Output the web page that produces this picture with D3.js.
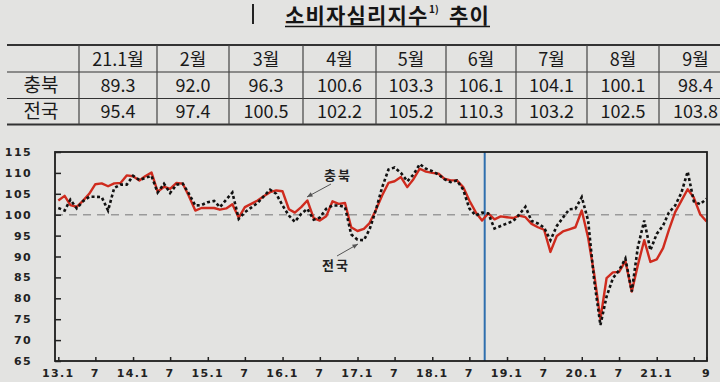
<!DOCTYPE html>
<html>
<head>
<meta charset="utf-8">
<script src="https://cdn.jsdelivr.net/npm/d3@7"></script>
<style>
  html, body { margin: 0; padding: 0; background: #e3e3e1; }
  svg { display: block; }
</style>
</head>
<body>
<svg id="chart" width="720" height="382"></svg>
<script>
// 표 데이터
var tableCols = ["21.1월", "2월", "3월", "4월", "5월", "6월", "7월", "8월", "9월"];
var tableRows = ["충북", "전국"];
var tableChungbuk = [89.3, 92.0, 96.3, 100.6, 103.3, 106.1, 104.1, 100.1, 98.4];
var tableNation = [95.4, 97.4, 100.5, 102.2, 105.2, 110.3, 103.2, 102.5, 103.8];

// 월별 지수 (13.1 ~ 21.9)
var chungbuk = [
  103.4, 104.5, 102.3, 101.9, 103.3, 105.0, 107.3, 107.5, 106.8, 107.5, 107.6, 109.4,
  109.2, 108.2, 109.2, 110.1, 105.5, 106.7, 106.2, 107.6, 107.4, 104.4, 101.0, 101.6,
  101.6, 101.6, 101.2, 101.5, 102.5, 99.3, 101.8, 102.6, 103.4, 104.4, 105.4, 105.8,
  105.6, 101.3, 100.5, 101.8, 103.4, 99.2, 98.6, 99.6, 103.2, 102.6, 102.8, 97.0,
  96.1, 96.6, 98.0, 101.2, 104.6, 107.6, 108.0, 109.0, 106.6, 108.5, 111.0, 110.3,
  110.0, 109.8, 108.6, 108.2, 108.2, 106.6, 103.4, 100.6, 98.6, 100.3, 98.9, 99.6,
  99.4, 99.2, 99.8, 99.4, 97.8, 97.0, 96.4, 91.1, 94.9, 96.0, 96.5, 97.0,
  101.0, 94.5, 86.0, 75.0, 84.8, 86.2, 86.3, 88.9, 81.6, 88.0, 93.9, 88.7,
  89.3, 92.0, 96.3, 100.6, 103.3, 106.1, 104.1, 100.1, 98.4
];
var nation = [
  101.6, 101.0, 103.6, 101.5, 103.2, 104.3, 104.3, 104.2, 101.0, 106.4, 107.2, 107.2,
  109.3, 108.3, 108.8, 109.3, 105.3, 107.4, 105.2, 107.2, 107.4, 105.0, 102.2, 102.3,
  103.0, 103.3, 101.8, 103.6, 105.3, 99.0, 100.6, 101.7, 102.8, 104.4, 106.0, 105.0,
  102.2, 99.8, 98.3, 100.2, 101.4, 98.8, 99.3, 101.4, 102.2, 102.2, 101.8, 95.3,
  94.0, 93.9, 96.5, 101.2, 106.5, 110.8, 111.3, 110.0, 108.0, 109.6, 112.1, 111.0,
  110.4, 109.6, 108.5, 107.8, 108.2, 106.0, 101.5, 99.8, 100.5, 100.3, 96.7, 97.3,
  97.9, 98.5, 100.0, 101.9, 98.5, 97.9, 96.9, 93.9, 97.3, 99.3, 101.3, 101.4,
  104.2, 98.6, 84.5, 73.6, 80.4, 84.8, 86.7, 89.5, 81.6, 92.3, 98.6, 91.5,
  95.4, 97.4, 100.5, 102.2, 105.2, 110.3, 103.2, 102.5, 103.8
];

var xTickMonths = ["2013-01", "2013-07", "2014-01", "2014-07", "2015-01", "2015-07", "2016-01", "2016-07",
  "2017-01", "2017-07", "2018-01", "2018-07", "2019-01", "2019-07", "2020-01", "2020-07", "2021-01", "2021-07", "2021-09"];
var xTickLabels = ["13.1", "7", "14.1", "7", "15.1", "7", "16.1", "7",
  "17.1", "7", "18.1", "7", "19.1", "7", "20.1", "7", "21.1", "", "9"];
var yTicks = [65, 70, 75, 80, 85, 90, 95, 100, 105, 110, 115];
var markerDate = new Date(2018, 8, 14);

var parseMonth = d3.timeParse("%Y-%m");
var months = d3.timeMonth.range(parseMonth("2013-01"), d3.timeMonth.offset(parseMonth("2021-09"), 1));

var svg = d3.select("#chart");

// 제목
svg.append("line")
  .attr("x1", 253).attr("x2", 253).attr("y1", 4).attr("y2", 24)
  .style("stroke", "#222").style("stroke-width", 2);

var titleStyle = function (t) {
  t.style("font-family", "'Noto Sans CJK KR', sans-serif")
    .style("font-weight", "bold")
    .style("fill", "#151515");
};
svg.append("text").attr("x", 285).attr("y", 23)
  .style("font-size", "21px").style("letter-spacing", "1.2px")
  .call(titleStyle).text("소비자심리지수");
svg.append("text").attr("x", 429).attr("y", 13).style("font-size", "10px")
  .call(titleStyle).text("1)");
svg.append("text").attr("x", 449).attr("y", 23)
  .style("font-size", "21px").style("letter-spacing", "1.2px")
  .call(titleStyle).text("추이");

svg.append("line")
  .attr("x1", 285).attr("x2", 490).attr("y1", 26.5).attr("y2", 26.5)
  .style("stroke", "#151515").style("stroke-width", 1.6);

// 표
var colEdges = [79, 157, 229, 303, 376, 446, 516, 587, 659, 732];
var rowEdges = [45, 72, 98.5, 124.5];
var tbl = svg.append("g").attr("class", "table");

tbl.selectAll(".hline")
  .data(rowEdges)
  .enter()
  .append("line")
  .attr("x1", 7).attr("x2", 720)
  .attr("y1", function (d) { return d; })
  .attr("y2", function (d) { return d; })
  .style("stroke", "#333")
  .style("stroke-width", function (d, i) { return (i === 0 || i === rowEdges.length - 1) ? 1.8 : 1.2; });

tbl.selectAll(".vline")
  .data(colEdges.slice(0, -1))
  .enter()
  .append("line")
  .attr("x1", function (d) { return d; })
  .attr("x2", function (d) { return d; })
  .attr("y1", rowEdges[0]).attr("y2", rowEdges[3])
  .style("stroke", "#444").style("stroke-width", 1.2);

var cellFont = "'Noto Sans CJK KR', 'Noto Sans', sans-serif";
function colCenter(i) { return (colEdges[i] + colEdges[i + 1]) / 2; }

tbl.selectAll(".head")
  .data(tableCols)
  .enter()
  .append("text")
  .attr("x", function (d, i) { return colCenter(i); })
  .attr("y", 66)
  .attr("text-anchor", "middle")
  .style("font-family", cellFont).style("font-size", "18px").style("fill", "#1a1a1a")
  .text(function (d) { return d; });

tbl.selectAll(".rowlab")
  .data(tableRows)
  .enter()
  .append("text")
  .attr("x", 41)
  .attr("y", function (d, i) { return i === 0 ? 92 : 118; })
  .attr("text-anchor", "middle")
  .style("font-family", cellFont).style("font-size", "19px").style("fill", "#1a1a1a")
  .text(function (d) { return d; });

[tableChungbuk, tableNation].forEach(function (vals, r) {
  tbl.selectAll(".val" + r)
    .data(vals)
    .enter()
    .append("text")
    .attr("x", function (d, i) { return colCenter(i); })
    .attr("y", r === 0 ? 92 : 118)
    .attr("text-anchor", "middle")
    .style("font-family", cellFont).style("font-size", "18px").style("fill", "#1a1a1a")
    .text(function (d) { return d.toFixed(1); });
});

// 그래프 영역
var plotLeft = 55, plotRight = 707, plotTop = 152, plotBottom = 361;

var xScale = d3.scaleTime()
  .domain([parseMonth("2013-01"), parseMonth("2021-09")])
  .range([58.3, 706.5]);

var yScale = d3.scaleLinear()
  .domain([65, 115])
  .range([plotBottom, plotTop]);

var plot = svg.append("g");

// 기준선 100
plot.append("line")
  .attr("x1", plotLeft).attr("x2", plotRight)
  .attr("y1", yScale(100)).attr("y2", yScale(100))
  .style("stroke", "#9a9a9a").style("stroke-width", 1.5)
  .style("stroke-dasharray", "8,6");

// 파란 세로선
var markerX = xScale(markerDate);
plot.append("line")
  .attr("x1", markerX).attr("x2", markerX)
  .attr("y1", plotTop).attr("y2", plotBottom)
  .style("stroke", "#2f6fae").style("stroke-width", 2);

var line = d3.line()
  .x(function (d, i) { return xScale(months[i]); })
  .y(function (d) { return yScale(d); });

plot.append("path")
  .datum(chungbuk)
  .attr("d", line)
  .style("fill", "none")
  .style("stroke", "#cf2b1e")
  .style("stroke-width", 2.4)
  .style("stroke-linejoin", "round");

plot.append("path")
  .datum(nation)
  .attr("d", line)
  .style("fill", "none")
  .style("stroke", "#111")
  .style("stroke-width", 2.6)
  .style("stroke-dasharray", "3,2.5");

// 테두리
plot.append("rect")
  .attr("x", plotLeft).attr("y", plotTop)
  .attr("width", plotRight - plotLeft).attr("height", plotBottom - plotTop)
  .style("fill", "none").style("stroke", "#1c1c1c").style("stroke-width", 1.8);

// y축 눈금
var yAxis = d3.axisRight(yScale).tickValues(yTicks).tickSize(6).tickFormat("");
svg.append("g")
  .attr("transform", "translate(" + plotLeft + ",0)")
  .call(yAxis)
  .call(function (g) { g.select(".domain").remove(); })
  .call(function (g) { g.selectAll("line").style("stroke", "#222").style("stroke-width", 1.5); });

svg.selectAll(".ylab")
  .data(yTicks)
  .enter()
  .append("text")
  .attr("x", 32)
  .attr("y", function (d) { return yScale(d) + 4; })
  .attr("text-anchor", "end")
  .style("font-family", "'DejaVu Sans', sans-serif")
  .style("font-weight", "bold").style("font-size", "11px")
  .style("letter-spacing", "1.4px")
  .style("fill", "#222")
  .text(function (d) { return d; });

// x축 눈금
var xTickDates = xTickMonths.map(parseMonth);
var xAxis = d3.axisTop(xScale).tickValues(xTickDates).tickSize(4).tickFormat("");
svg.append("g")
  .attr("transform", "translate(0," + plotBottom + ")")
  .call(xAxis)
  .call(function (g) { g.select(".domain").remove(); })
  .call(function (g) { g.selectAll("line").style("stroke", "#222").style("stroke-width", 1.5); });

svg.selectAll(".xlab")
  .data(xTickLabels)
  .enter()
  .append("text")
  .attr("x", function (d, i) { return xScale(xTickDates[i]); })
  .attr("y", 377)
  .attr("text-anchor", "middle")
  .style("font-family", "'DejaVu Sans', sans-serif")
  .style("font-weight", "bold").style("font-size", "11px")
  .style("letter-spacing", "1.4px")
  .style("fill", "#222")
  .text(function (d) { return d; });

// 주석
function annotate(label, tx, ty, x1, y1, x2, y2) {
  svg.append("text")
    .attr("x", tx).attr("y", ty)
    .attr("text-anchor", "middle")
    .style("font-family", "'Noto Sans CJK KR', sans-serif")
    .style("font-weight", "bold").style("font-size", "13px")
    .style("letter-spacing", "2px")
    .style("fill", "#222")
    .text(label);
  svg.append("line")
    .attr("x1", x1).attr("y1", y1).attr("x2", x2).attr("y2", y2)
    .style("stroke", "#555").style("stroke-width", 1);
  var ang = Math.atan2(y2 - y1, x2 - x1);
  var len = 6, spread = 0.4;
  svg.append("path")
    .attr("d", "M" + x2 + "," + y2 +
      "L" + (x2 - len * Math.cos(ang - spread)) + "," + (y2 - len * Math.sin(ang - spread)) +
      "L" + (x2 - len * Math.cos(ang + spread)) + "," + (y2 - len * Math.sin(ang + spread)) + "Z")
    .style("fill", "#555");
}
annotate("충북", 338, 180, 331, 184, 307, 197);
annotate("전국", 336, 270, 337, 256, 358, 244);
</script>
</body>
</html>
